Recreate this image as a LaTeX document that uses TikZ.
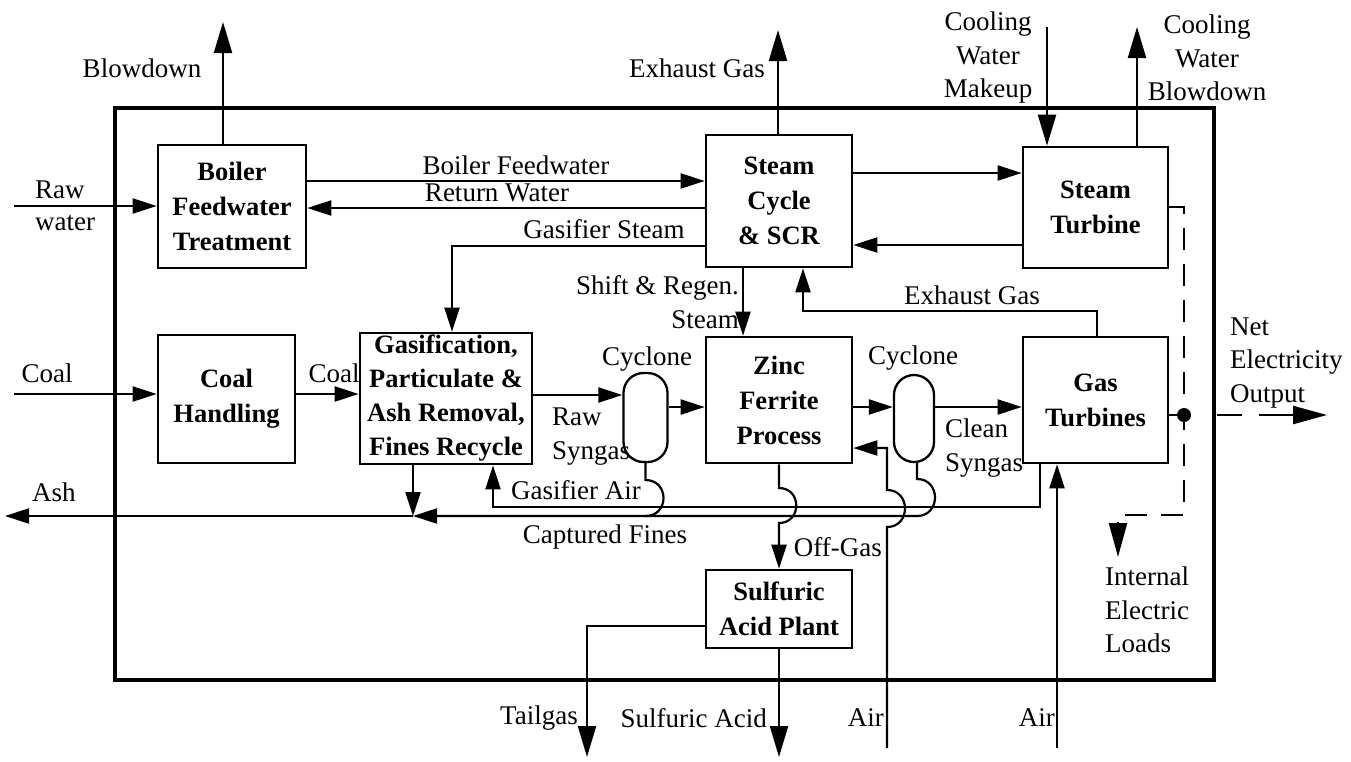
\documentclass[tikz,border=0pt]{standalone}
\usepackage{fontspec}
\setmainfont{Liberation Serif}
\usetikzlibrary{arrows.meta}
\begin{document}
\begin{tikzpicture}[x=1pt,y=-1pt,
  box/.style={draw, line width=2.6pt, align=center, inner sep=0pt,
    font=\fontsize{26.5}{35}\selectfont\bfseries},
  cyc/.style={draw, line width=2.3pt, rounded corners=20pt, inner sep=0pt},
  lbl/.style={inner sep=0pt, font=\fontsize{27}{33.5}\selectfont},
  conn/.style={line width=2.2pt},
  arr/.style={conn, -{Triangle[length=24pt,width=15pt]}},
  bigarr/.style={conn, -{Triangle[length=31pt,width=18pt]}},
  elec/.style={line width=2.4pt, dash pattern=on 22pt off 14pt},
  elecarr/.style={elec, -{Triangle[length=34pt,width=18pt]}},
]
\useasboundingbox (0,0) rectangle (1351,761);

% frame
\node[draw, line width=3.6pt, minimum width=1099pt, minimum height=572pt, inner sep=0pt] (frame) at (664.5,394) {};

% boxes
\node[box, minimum width=148pt, minimum height=123pt] (bft) at (232,206.5) {Boiler\\Feedwater\\Treatment};
\node[box, minimum width=146pt, minimum height=132pt] (sc) at (779,201) {Steam\\Cycle\\\& SCR};
\node[box, minimum width=145pt, minimum height=121pt] (st) at (1095.5,207.5) {Steam\\Turbine};
\node[box, minimum width=137pt, minimum height=128pt] (ch) at (226.5,399) {Coal\\Handling};
\node[box, minimum width=172pt, minimum height=131pt, font=\fontsize{26.5}{34}\selectfont\bfseries] (gas) at (446,398.5) {Gasification,\\Particulate \&\\Ash Removal,\\Fines Recycle};
\node[box, minimum width=146pt, minimum height=126pt] (zf) at (779,400) {Zinc\\Ferrite\\Process};
\node[box, minimum width=145pt, minimum height=126pt] (gt) at (1095.5,400) {Gas\\Turbines};
\node[box, minimum width=146pt, minimum height=78pt] (sap) at (779,609) {Sulfuric\\Acid Plant};

% cyclones
\node[cyc, minimum width=44pt, minimum height=89pt] (cyc1) at (645.5,417.5) {};
\node[cyc, minimum width=40pt, minimum height=87pt] (cyc2) at (914,418.5) {};
\node[lbl] (lcyc1) at (647,359) {Cyclone};
\node[lbl] (lcyc2) at (913,358) {Cyclone};

% helper coordinates
\coordinate (bdtop) at (223,22);
\coordinate (rawin) at (14,206);
\coordinate (yBFW) at (0,181);
\coordinate (yRW) at (0,208);
\coordinate (yGS) at (0,246);
\coordinate (xGS) at (452,0);
\coordinate (egtop) at (778,30);
\coordinate (ySCST) at (0,173);
\coordinate (ySTSC) at (0,245);
\coordinate (cwm) at (1047,27);
\coordinate (cwb) at (1137,27);
\coordinate (xSR) at (743,0);
\coordinate (xEG1) at (1097,0);
\coordinate (yEG) at (0,311);
\coordinate (xEG2) at (803,0);
\coordinate (coalin) at (14,394);
\coordinate (yRS) at (0,395);
\coordinate (yC) at (0,407);
\coordinate (ashj) at (413,516);
\coordinate (ashout) at (5,516);
\coordinate (hopC1) at (645.5,480);
\coordinate (hopC1e) at (645.5,516);
\coordinate (hopC2) at (917,479);
\coordinate (hopC2e) at (917,516);
\coordinate (xGA1) at (1040,0);
\coordinate (yGA) at (0,507);
\coordinate (xGA2) at (493,0);
\coordinate (hopZ1) at (779,488);
\coordinate (hopZ2) at (779,523);
\coordinate (airZin) at (887,748);
\coordinate (hopA1) at (887,527);
\coordinate (hopA2) at (887,490);
\coordinate (yAZ) at (0,448);
\coordinate (airGin) at (1057,748);
\coordinate (tgout) at (587,757);
\coordinate (yTG) at (0,626);
\coordinate (saout) at (779,757);
\coordinate (yST) at (0,207);
\coordinate (xE) at (1184,0);
\coordinate (yEL) at (0,515);
\coordinate (ilout) at (1118,557);
\coordinate (netout) at (1327,415);

% top row
\draw[bigarr] (bdtop |- bft.north) -- (bdtop);
\node[lbl] (lbd) at (142,68) {Blowdown};
\draw[arr] (rawin) -- (rawin -| bft.west);
\node[lbl, anchor=west, align=left, font=\fontsize{27}{32}\selectfont] (lraw) at (35,206) {Raw\\water};
\draw[arr] (bft.east |- yBFW) -- (sc.west |- yBFW);
\node[lbl] (lbfw) at (516,165) {Boiler Feedwater};
\draw[arr] (sc.west |- yRW) -- (bft.east |- yRW);
\node[lbl] (lrw) at (497,193) {Return Water};
\draw[arr] (sc.west |- yGS) -| (gas.north -| xGS);
\node[lbl] (lgs) at (604,229) {Gasifier Steam};
\draw[bigarr] (egtop |- sc.north) -- (egtop);
\node[lbl, anchor=east] (leg1) at (765,68) {Exhaust Gas};
\draw[arr] (sc.east |- ySCST) -- (st.west |- ySCST);
\draw[arr] (st.west |- ySTSC) -- (sc.east |- ySTSC);
\draw[bigarr] (cwm) -- (cwm |- st.north);
\node[lbl, align=center] (lcwm) at (988,58) {Cooling\\Water\\Makeup};
\draw[bigarr] (cwb |- st.north) -- (cwb);
\node[lbl, align=center] (lcwb) at (1207,58) {Cooling\\Water\\Blowdown};
\draw[arr] (sc.south -| xSR) -- (zf.north -| xSR);
\node[lbl, anchor=east, align=right] (lsr) at (739,302) {Shift \& Regen.\\Steam};
\draw[arr] (gt.north -| xEG1) |- (xEG2 |- yEG) -- (sc.south -| xEG2);
\node[lbl] (leg2) at (972,295) {Exhaust Gas};

% middle row
\draw[arr] (coalin) -- (coalin -| ch.west);
\node[lbl] (lcoal1) at (47,373) {Coal};
\draw[arr] (ch.east |- coalin) -- (gas.west |- coalin);
\node[lbl] (lcoal2) at (334,373) {Coal};
\draw[arr] (gas.east |- yRS) -- (cyc1.west |- yRS);
\node[lbl, anchor=west, align=left] (lrs) at (552,436.5) {Raw\\Syngas};
\draw[arr] (cyc1.east |- yC) -- (zf.west |- yC);
\draw[arr] (zf.east |- yC) -- (cyc2.west |- yC);
\draw[arr] (cyc2.east |- yC) -- (gt.west |- yC);
\node[lbl, anchor=west, align=left] (lcs) at (945,448) {Clean\\Syngas};

% bottom flows
\draw[arr] (gas.south -| ashj) -- (ashj);
\draw[arr] (ashj) -- (ashout);
\node[lbl] (lash) at (54,492) {Ash};
\draw[arr] (cyc2.south -| hopC2) -- (hopC2) .. controls +(24,0) and +(24,0) .. (hopC2e) -- (ashj);
\draw[conn] (cyc1.south) -- (hopC1) .. controls +(24,0) and +(24,0) .. (hopC1e);
\node[lbl] (lcf) at (605,537) {Captured Fines};
\draw[arr] (gt.south -| xGA1) |- (xGA2 |- yGA) -- (gas.south -| xGA2);
\node[lbl] (lga) at (576,490) {Gasifier Air};
\draw[arr] (zf.south) -- (hopZ1) .. controls +(23,0) and +(23,0) .. (hopZ2) -- (sap.north);
\node[lbl, anchor=east] (log) at (882,547) {Off-Gas};
\draw[arr] (airZin) -- (hopA1) .. controls +(24,0) and +(24,0) .. (hopA2) |- (zf.east |- yAZ);
\node[lbl, anchor=east] (lair1) at (884,718) {Air};
\draw[arr] (airGin) -- (airGin |- gt.south);
\node[lbl, anchor=east] (lair2) at (1055,718) {Air};
\draw[bigarr] (sap.west |- yTG) -| (tgout);
\node[lbl, anchor=east] (ltg) at (578,718) {Tailgas};
\draw[bigarr] (sap.south) -- (saout);
\node[lbl, anchor=east] (lsa) at (767,718) {Sulfuric Acid};

% electricity
\node[circle, fill, inner sep=0pt, minimum size=14pt] (dot) at (1184,415) {};
\draw[elecarr] (st.east |- yST) -| (xE |- yEL) -| (ilout);
\draw[conn] (gt.east |- dot) -- (dot);
\draw[line width=2.4pt, dash pattern=on 0pt off 33pt on 25pt off 17pt on 80pt,
  -{Triangle[length=34pt,width=18pt]}] (dot.center) -- (netout);
\node[lbl, anchor=west, align=left] (lneo) at (1230,363) {Net\\Electricity\\Output};
\node[lbl, anchor=west, align=left] (liel) at (1105,610) {Internal\\Electric\\Loads};
\end{tikzpicture}
\end{document}
